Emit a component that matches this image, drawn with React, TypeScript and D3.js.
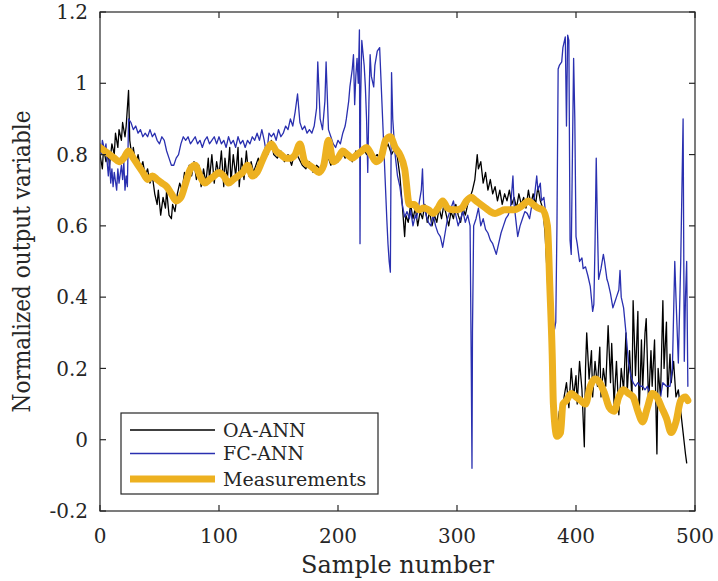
import React from "react";
import * as d3 from "d3";

const xTicks = [0, 100, 200, 300, 400, 500];
const yTicks = [-0.2, 0, 0.2, 0.4, 0.6, 0.8, 1, 1.2];
const seriesNames = ["OA-ANN", "FC-ANN", "Measurements"];

const measurements: [number, number][] = [
  [0, 0.82], [4, 0.81], [8, 0.8], [12, 0.79], [16, 0.78], [20, 0.79], [24, 0.81], [28, 0.79],
  [32, 0.77], [36, 0.75], [40, 0.73], [44, 0.74], [48, 0.73], [52, 0.72], [56, 0.71], [60, 0.69],
  [64, 0.67], [68, 0.68], [72, 0.72], [76, 0.76], [80, 0.77], [84, 0.74], [88, 0.72], [92, 0.73],
  [96, 0.74], [100, 0.75], [104, 0.74], [108, 0.72], [112, 0.73], [116, 0.74], [120, 0.75], [124, 0.77],
  [128, 0.74], [132, 0.75], [136, 0.78], [140, 0.81], [144, 0.83], [148, 0.81], [152, 0.8], [156, 0.79],
  [160, 0.79], [164, 0.8], [168, 0.83], [172, 0.78], [176, 0.77], [180, 0.76], [184, 0.75], [188, 0.77],
  [192, 0.84], [196, 0.78], [200, 0.79], [204, 0.81], [208, 0.8], [212, 0.79], [216, 0.8], [220, 0.81],
  [224, 0.82], [228, 0.8], [232, 0.78], [236, 0.79], [240, 0.84], [244, 0.85], [248, 0.82], [252, 0.8],
  [256, 0.76], [260, 0.66], [264, 0.66], [268, 0.645], [272, 0.65], [276, 0.645], [280, 0.635], [284, 0.65],
  [288, 0.67], [292, 0.65], [296, 0.645], [300, 0.645], [304, 0.65], [308, 0.67], [312, 0.68], [316, 0.67],
  [320, 0.66], [324, 0.65], [328, 0.64], [332, 0.635], [336, 0.64], [340, 0.645], [344, 0.645], [348, 0.645],
  [352, 0.65], [356, 0.66], [360, 0.67], [364, 0.66], [368, 0.65], [372, 0.645], [376, 0.6], [378, 0.43],
  [380, 0.24], [381, 0.1], [384, 0.01], [387, 0.02], [389, 0.1], [392, 0.11], [396, 0.13], [400, 0.12],
  [404, 0.11], [408, 0.1], [412, 0.15], [416, 0.17], [420, 0.16], [424, 0.13], [428, 0.09], [432, 0.08],
  [436, 0.12], [440, 0.14], [444, 0.13], [448, 0.12], [452, 0.08], [456, 0.05], [460, 0.09], [464, 0.13],
  [468, 0.12], [472, 0.09], [476, 0.06], [480, 0.02], [484, 0.05], [488, 0.11], [492, 0.12], [494, 0.11],
];

const oaAnn: [number, number][] = [
  [0, 0.8], [2, 0.76], [3, 0.82], [5, 0.78], [7, 0.8], [8, 0.77], [10, 0.83], [12, 0.8], [13, 0.86],
  [15, 0.82], [16, 0.87], [18, 0.84], [19, 0.89], [21, 0.85], [22, 0.88], [24, 0.98], [25, 0.84],
  [27, 0.79], [28, 0.82], [30, 0.77], [32, 0.8], [34, 0.76], [36, 0.78], [38, 0.74], [40, 0.76],
  [42, 0.72], [44, 0.74], [46, 0.69], [48, 0.66], [49, 0.7], [51, 0.63], [53, 0.68], [55, 0.65],
  [56, 0.7], [58, 0.63], [60, 0.62], [61, 0.66], [63, 0.64], [65, 0.69], [67, 0.72], [69, 0.7],
  [71, 0.75], [73, 0.73], [75, 0.77], [77, 0.74], [79, 0.78], [81, 0.73], [83, 0.77], [85, 0.71],
  [87, 0.76], [89, 0.72], [91, 0.79], [92, 0.73], [94, 0.8], [96, 0.72], [98, 0.78], [100, 0.74],
  [102, 0.81], [104, 0.71], [105, 0.79], [107, 0.73], [109, 0.82], [110, 0.72], [112, 0.8], [114, 0.74],
  [116, 0.82], [117, 0.71], [119, 0.79], [121, 0.73], [123, 0.81], [125, 0.74], [127, 0.78], [129, 0.75],
  [131, 0.77], [133, 0.79], [135, 0.76], [137, 0.8], [139, 0.82], [141, 0.8], [144, 0.84], [146, 0.8],
  [149, 0.79], [152, 0.81], [155, 0.78], [158, 0.8], [161, 0.77], [164, 0.81], [167, 0.79], [170, 0.77],
  [173, 0.76], [176, 0.78], [179, 0.75], [182, 0.77], [185, 0.76], [188, 0.78], [191, 0.8], [194, 0.77],
  [197, 0.79], [200, 0.78], [203, 0.81], [206, 0.79], [209, 0.8], [212, 0.78], [215, 0.81], [218, 0.8],
  [221, 0.82], [224, 0.8], [227, 0.81], [230, 0.79], [233, 0.8], [236, 0.78], [239, 0.81], [242, 0.83],
  [245, 0.8], [248, 0.82], [250, 0.79], [252, 0.74], [254, 0.66], [256, 0.57], [257, 0.63], [259, 0.61],
  [261, 0.66], [263, 0.62], [265, 0.65], [267, 0.6], [269, 0.64], [271, 0.62], [273, 0.66], [275, 0.61],
  [277, 0.64], [279, 0.6], [281, 0.63], [283, 0.61], [285, 0.65], [287, 0.62], [289, 0.66], [291, 0.63],
  [293, 0.6], [295, 0.64], [297, 0.62], [299, 0.66], [301, 0.63], [303, 0.61], [305, 0.65], [307, 0.63],
  [309, 0.66], [311, 0.68], [313, 0.7], [315, 0.73], [317, 0.8], [318, 0.76], [320, 0.78], [322, 0.72],
  [324, 0.75], [326, 0.7], [328, 0.73], [330, 0.69], [332, 0.71], [334, 0.67], [336, 0.7], [338, 0.66],
  [340, 0.69], [342, 0.67], [344, 0.7], [346, 0.66], [348, 0.68], [350, 0.65], [352, 0.69], [354, 0.66],
  [356, 0.68], [358, 0.65], [360, 0.7], [362, 0.66], [364, 0.69], [366, 0.66], [368, 0.71], [370, 0.67],
  [372, 0.65], [374, 0.58], [376, 0.45], [378, 0.3], [380, 0.14], [382, 0.06], [384, 0.03], [386, 0.08],
  [388, 0.05], [390, 0.12], [392, 0.16], [394, 0.09], [396, 0.2], [398, 0.12], [400, 0.18], [401, 0.1],
  [403, 0.22], [405, 0.14], [407, -0.02], [408, 0.2], [409, 0.3], [411, 0.17], [413, 0.25], [414, 0.12],
  [416, 0.22], [418, 0.15], [420, 0.26], [421, 0.12], [423, 0.2], [425, 0.15], [427, 0.32], [429, 0.16],
  [430, 0.27], [432, 0.1], [434, 0.22], [436, 0.07], [438, 0.2], [440, 0.14], [442, 0.3], [443, 0.13],
  [445, 0.25], [447, 0.11], [448, 0.39], [450, 0.18], [452, 0.36], [453, 0.06], [455, 0.28], [456, 0.14],
  [458, 0.3], [459, 0.34], [461, 0.1], [463, 0.25], [464, 0.15], [466, 0.28], [468, -0.04], [469, 0.2],
  [471, 0.12], [473, 0.39], [474, 0.2], [476, 0.33], [477, 0.12], [479, 0.24], [480, 0.16], [482, 0.22],
  [484, 0.12], [486, 0.14], [488, 0.08], [490, 0.02], [492, -0.04], [493, -0.065],
];

const fcAnn: [number, number][] = [
  [0, 0.83], [1, 0.8], [2, 0.84], [4, 0.81], [5, 0.83], [6, 0.78], [7, 0.74], [8, 0.79], [9, 0.72],
  [10, 0.76], [11, 0.71], [12, 0.75], [14, 0.7], [15, 0.76], [16, 0.72], [18, 0.77], [19, 0.73],
  [20, 0.78], [21, 0.7], [22, 0.74], [23, 0.71], [24, 0.9], [26, 0.89], [28, 0.87], [30, 0.88],
  [32, 0.86], [34, 0.87], [36, 0.85], [38, 0.86], [40, 0.85], [42, 0.87], [44, 0.85], [46, 0.86],
  [48, 0.84], [50, 0.83], [52, 0.85], [54, 0.84], [56, 0.81], [58, 0.79], [60, 0.77], [62, 0.77],
  [64, 0.79], [66, 0.8], [68, 0.83], [70, 0.85], [72, 0.84], [74, 0.85], [76, 0.83], [78, 0.84],
  [80, 0.85], [82, 0.83], [84, 0.84], [86, 0.82], [88, 0.84], [90, 0.85], [92, 0.83], [94, 0.84],
  [96, 0.85], [98, 0.83], [100, 0.85], [102, 0.83], [104, 0.84], [106, 0.82], [108, 0.85], [110, 0.83],
  [112, 0.84], [114, 0.82], [116, 0.85], [118, 0.83], [120, 0.84], [122, 0.82], [124, 0.84], [126, 0.83],
  [128, 0.85], [130, 0.84], [132, 0.86], [134, 0.84], [136, 0.87], [138, 0.84], [140, 0.8], [142, 0.86],
  [144, 0.85], [146, 0.86], [148, 0.84], [150, 0.87], [152, 0.85], [154, 0.86], [156, 0.88], [158, 0.87],
  [160, 0.9], [162, 0.88], [164, 0.92], [166, 0.97], [168, 0.89], [170, 0.87], [172, 0.88], [174, 0.86],
  [176, 0.87], [178, 0.86], [180, 0.88], [182, 0.93], [183, 1.06], [185, 0.9], [187, 0.87], [189, 0.95],
  [190, 1.06], [192, 0.87], [194, 0.85], [196, 0.83], [198, 0.82], [200, 0.84], [202, 0.83], [204, 0.86],
  [206, 0.88], [207, 0.9], [209, 0.95], [210, 0.99], [212, 1.04], [213, 1.08], [214, 0.94], [215, 1.02],
  [216, 1.07], [217, 1.0], [218, 1.15], [218.5, 0.55], [219, 0.95], [220, 1.12], [222, 1.05], [223, 0.99],
  [224, 0.9], [225, 0.75], [226, 0.95], [227, 1.08], [228, 1.02], [230, 0.99], [231, 1.05], [233, 1.09],
  [235, 1.1], [236, 1.02], [238, 0.86], [240, 0.7], [241, 0.62], [242, 0.55], [243, 0.5], [244, 0.47],
  [245, 1.03], [246, 0.9], [248, 0.8], [250, 0.74], [252, 0.71], [254, 0.66], [256, 0.625], [258, 0.64],
  [260, 0.62], [261, 0.645], [263, 0.6], [265, 0.63], [266, 0.62], [268, 0.66], [270, 0.7], [271, 0.76],
  [272, 0.66], [274, 0.63], [276, 0.61], [278, 0.6], [280, 0.63], [282, 0.6], [284, 0.58], [286, 0.57],
  [288, 0.54], [290, 0.58], [292, 0.62], [294, 0.64], [296, 0.66], [297, 0.67], [299, 0.63], [301, 0.6],
  [303, 0.62], [305, 0.64], [307, 0.61], [309, 0.63], [311, 0.6], [312, 0.2], [312.6, -0.08], [313, 0.3],
  [314, 0.6], [316, 0.62], [318, 0.65], [320, 0.6], [322, 0.62], [324, 0.59], [326, 0.58], [328, 0.56],
  [330, 0.55], [332, 0.53], [333, 0.52], [335, 0.55], [337, 0.58], [339, 0.6], [341, 0.62], [343, 0.63],
  [345, 0.65], [347, 0.74], [348, 0.66], [350, 0.6], [351, 0.57], [353, 0.6], [355, 0.62], [357, 0.64],
  [359, 0.635], [361, 0.62], [363, 0.66], [365, 0.68], [367, 0.74], [368, 0.7], [370, 0.72], [371, 0.67],
  [373, 0.68], [374, 0.65], [376, 0.55], [378, 0.45], [380, 0.36], [382, 0.31], [383, 0.33], [384, 0.6],
  [385, 1.04], [386, 1.05], [388, 1.06], [389, 1.1], [391, 1.13], [392, 0.88], [393, 1.135], [394, 1.12],
  [395, 0.56], [396, 0.52], [397, 0.8], [398, 1.07], [399, 0.9], [400, 0.57], [401, 0.55], [403, 0.5],
  [405, 0.51], [406, 0.48], [408, 0.485], [410, 0.46], [412, 0.43], [414, 0.36], [415, 0.38], [416, 0.55],
  [417, 0.79], [418, 0.6], [419, 0.45], [421, 0.48], [423, 0.52], [424, 0.5], [426, 0.45], [427, 0.44],
  [429, 0.41], [431, 0.37], [433, 0.39], [434, 0.4], [436, 0.42], [437, 0.475], [438, 0.4], [440, 0.37],
  [442, 0.3], [444, 0.22], [446, 0.18], [448, 0.16], [450, 0.15], [452, 0.16], [454, 0.15], [456, 0.15],
  [458, 0.14], [460, 0.15], [462, 0.13], [465, 0.12], [468, 0.13], [471, 0.12], [473, 0.16], [476, 0.15],
  [479, 0.15], [481, 0.2], [483, 0.5], [484, 0.4], [486, 0.215], [488, 0.5], [489, 0.7], [490, 0.9],
  [491, 0.22], [492, 0.4], [493, 0.5], [494, 0.15],
];

const W = 718;
const H = 581;
const left = 100, right = 695, top = 12, bottom = 511;
const FONT = "'DejaVu Serif', serif";
const axisColor = "#262626";
const colors = { oa: "#000000", fc: "#2a30b0", meas: "#EDB120" };

export default function App() {
  const x = d3.scaleLinear().domain([0, 500]).range([left, right]);
  const y = d3.scaleLinear().domain([-0.2, 1.2]).range([bottom, top]);
  const lineLin = d3.line<[number, number]>().x((d) => x(d[0])).y((d) => y(d[1]));
  const lineSmooth = d3
    .line<[number, number]>()
    .x((d) => x(d[0]))
    .y((d) => y(d[1]))
    .curve(d3.curveMonotoneX);
  const tl = 6;
  const fmt = (v: number) => (Math.abs(v) < 1e-9 ? "0" : String(+v.toFixed(1)));

  const legendX = 121, legendY = 413, legendW = 257, legendH = 81;
  const rows = [430, 453.5, 479];
  const legendStyles = [
    { c: colors.oa, w: 1.3 },
    { c: colors.fc, w: 1.3 },
    { c: colors.meas, w: 7 },
  ];

  return (
    <svg width={W} height={H} style={{ position: "absolute", left: 0, top: 0, background: "#fff" }}>
      <rect x={0} y={0} width={W} height={H} fill="#fff" />
      <defs>
        <clipPath id="plotclip">
          <rect x={left} y={top} width={right - left} height={bottom - top} />
        </clipPath>
      </defs>
      <g clipPath="url(#plotclip)" fill="none" strokeLinejoin="round" strokeLinecap="round">
        <path d={lineLin(oaAnn) || ""} stroke={colors.oa} strokeWidth={1.3} />
        <path d={lineLin(fcAnn) || ""} stroke={colors.fc} strokeWidth={1.3} />
        <path d={lineSmooth(measurements) || ""} stroke={colors.meas} strokeWidth={7} />
      </g>
      {/* box */}
      <rect x={left} y={top} width={right - left} height={bottom - top} fill="none" stroke={axisColor} strokeWidth={1.2} />
      {/* x ticks */}
      {xTicks.map((t) => (
        <g key={"x" + t}>
          <line x1={x(t)} x2={x(t)} y1={bottom} y2={bottom - tl} stroke={axisColor} strokeWidth={1.2} />
          <line x1={x(t)} x2={x(t)} y1={top} y2={top + tl} stroke={axisColor} strokeWidth={1.2} />
          <text x={x(t)} y={bottom + 32} textAnchor="middle" fontFamily={FONT} fontSize={20} fill="#262626">
            {fmt(t)}
          </text>
        </g>
      ))}
      {yTicks.map((t) => (
        <g key={"y" + t}>
          <line x1={left} x2={left + tl} y1={y(t)} y2={y(t)} stroke={axisColor} strokeWidth={1.2} />
          <line x1={right} x2={right - tl} y1={y(t)} y2={y(t)} stroke={axisColor} strokeWidth={1.2} />
          <text x={88} y={y(t)} dy="0.36em" textAnchor="end" fontFamily={FONT} fontSize={20} fill="#262626">
            {fmt(t)}
          </text>
        </g>
      ))}
      <text x={(left + right) / 2} y={573} textAnchor="middle" fontFamily={FONT} fontSize={24} fill="#262626">
        Sample number
      </text>
      <text
        transform={`translate(30, ${(top + bottom) / 2}) rotate(-90)`}
        textAnchor="middle"
        fontFamily={FONT}
        fontSize={24}
        fill="#262626"
        textLength={302}
        lengthAdjust="spacingAndGlyphs"
      >
        Normalized output variable
      </text>
      {/* legend */}
      <rect x={legendX} y={legendY} width={legendW} height={legendH} fill="#fff" stroke={axisColor} strokeWidth={1.2} />
      {seriesNames.map((n, i) => (
        <g key={n}>
          <line x1={130} x2={215} y1={rows[i]} y2={rows[i]} stroke={legendStyles[i].c} strokeWidth={legendStyles[i].w} />
          <text x={223} y={rows[i]} dy="0.36em" fontFamily={FONT} fontSize={19} fill="#262626">
            {n}
          </text>
        </g>
      ))}
    </svg>
  );
}
